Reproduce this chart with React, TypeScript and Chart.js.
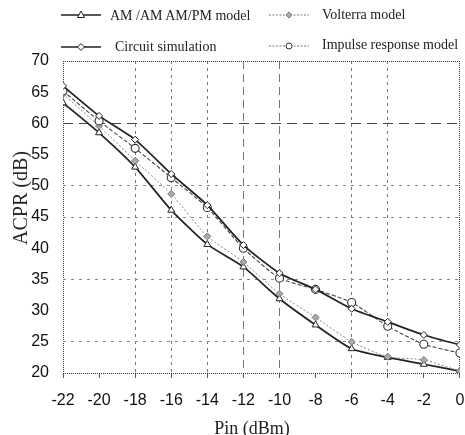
import React, { useEffect, useRef } from "react";
import { Chart, registerables } from "chart.js";

Chart.register(...registerables);

// ---- data ----
const pinValues = [-22, -20, -18, -16, -14, -12, -10, -8, -6, -4, -2, 0];
const amamValues = [63.3, 58.5, 53.0, 46.1, 40.6, 37.0, 31.9, 27.7, 23.9, 22.5, 21.4, 20.3];
const volterraValues = [64.7, 59.6, 54.0, 48.7, 41.9, 37.8, 32.7, 28.9, 25.0, 22.6, 22.1, 20.3];
const circuitValues = [66.0, 61.2, 57.4, 51.9, 46.9, 40.5, 36.0, 33.4, 30.3, 28.2, 26.1, 24.5];
const impulseValues = [65.2, 60.4, 56.0, 51.3, 46.5, 40.0, 35.2, 33.4, 31.3, 27.5, 24.6, 23.2];

const seriesNames = [
  "AM /AM AM/PM model",
  "Volterra model",
  "Circuit simulation",
  "Impulse response model",
];
const xAxisTitle = "Pin (dBm)";
const yAxisTitle = "ACPR (dB)";
const xGridValues = [-18, -16, -14, -12, -10, -6, -4];
const yGridValues = [25, 35, 45, 50, 60];

const toPoints = (ys: number[]) => pinValues.map((x, i) => ({ x, y: ys[i] }));

function LegendSample({ kind }: { kind: string }) {
  const w = 40;
  const h = 12;
  const cx = w / 2;
  const cy = h / 2;
  let line: React.ReactNode;
  let marker: React.ReactNode;
  if (kind === "amam" || kind === "circuit") {
    line = <line x1={0} y1={cy} x2={w} y2={cy} stroke="#222" strokeWidth={1.4} />;
  } else {
    line = (
      <line x1={0} y1={cy} x2={w} y2={cy} stroke="#777" strokeWidth={1} strokeDasharray="2,1.5" />
    );
  }
  if (kind === "amam") {
    marker = <polygon points={`${cx},${cy - 4} ${cx - 3.5},${cy + 2.5} ${cx + 3.5},${cy + 2.5}`} fill="#fff" stroke="#222" strokeWidth={1} />;
  } else if (kind === "circuit") {
    marker = <polygon points={`${cx},${cy - 3.5} ${cx + 3.5},${cy} ${cx},${cy + 3.5} ${cx - 3.5},${cy}`} fill="#fff" stroke="#222" strokeWidth={1} />;
  } else if (kind === "volterra") {
    marker = <polygon points={`${cx},${cy - 3} ${cx + 3},${cy} ${cx},${cy + 3} ${cx - 3},${cy}`} fill="#aaa" stroke="#777" strokeWidth={1} />;
  } else {
    marker = <circle cx={cx} cy={cy} r={3} fill="#fff" stroke="#333" strokeWidth={1} />;
  }
  return (
    <svg width={w} height={h} style={{ position: "absolute", left: 0, top: -6 }}>
      {line}
      {marker}
    </svg>
  );
}

export default function App() {
  const canvasRef = useRef<HTMLCanvasElement | null>(null);

  useEffect(() => {
    const canvas = canvasRef.current;
    if (!canvas) return;

    const xDash = (ctx: any) => {
      const v = ctx.tick ? ctx.tick.value : null;
      if (v === -22 || v === 0) return [1, 1];
      if (v === -12 || v === -10) return [8, 5];
      return [3, 4];
    };
    const xColor = (ctx: any) => {
      const v = ctx.tick ? ctx.tick.value : null;
      if (v === -22 || v === 0) return "#333";
      if (xGridValues.includes(v)) return "#777";
      return "rgba(0,0,0,0)";
    };
    const yDash = (ctx: any) => {
      const v = ctx.tick ? ctx.tick.value : null;
      if (v === 20 || v === 70) return [1, 1];
      if (v === 60) return [10, 6];
      return [3, 5];
    };
    const yColor = (ctx: any) => {
      const v = ctx.tick ? ctx.tick.value : null;
      if (v === 20 || v === 70) return "#333";
      if (v === 60) return "#444";
      if (yGridValues.includes(v)) return "#888";
      return "rgba(0,0,0,0)";
    };

    const tickFont = { family: "'Liberation Sans', Arial, sans-serif", size: 16 };

    const chart = new Chart(canvas, {
      type: "line",
      data: {
        datasets: [
          {
            label: seriesNames[2],
            data: toPoints(circuitValues),
            borderColor: "#222",
            borderWidth: 1.7,
            pointStyle: "rectRot",
            pointRadius: 3.5,
            pointBackgroundColor: "#fff",
            pointBorderColor: "#222",
            pointBorderWidth: 1,
            tension: 0.2,
          },
          {
            label: seriesNames[3],
            data: toPoints(impulseValues),
            borderColor: "#444",
            borderWidth: 1.1,
            borderDash: [4, 2],
            pointStyle: "circle",
            pointRadius: 4,
            pointBackgroundColor: "#fff",
            pointBorderColor: "#333",
            pointBorderWidth: 1.1,
            tension: 0.2,
          },
          {
            label: seriesNames[1],
            data: toPoints(volterraValues),
            borderColor: "#888",
            borderWidth: 1,
            borderDash: [2, 2],
            pointStyle: "rectRot",
            pointRadius: 3.5,
            pointBackgroundColor: "#aaa",
            pointBorderColor: "#777",
            pointBorderWidth: 1,
            tension: 0.2,
          },
          {
            label: seriesNames[0],
            data: toPoints(amamValues),
            borderColor: "#222",
            borderWidth: 1.7,
            pointStyle: "triangle",
            pointRadius: 4,
            pointBackgroundColor: "#fff",
            pointBorderColor: "#222",
            pointBorderWidth: 1,
            tension: 0.2,
          },
        ],
      },
      options: {
        animation: false,
        responsive: false,
        devicePixelRatio: 1,
        layout: { padding: { top: 61, left: 0, right: 5, bottom: 0 } },
        plugins: {
          legend: { display: false },
          tooltip: { enabled: false },
        },
        scales: {
          x: {
            type: "linear",
            min: -22,
            max: 0,
            ticks: {
              stepSize: 2,
              padding: 13,
              color: "#111",
              font: tickFont,
            },
            grid: {
              color: xColor,
              lineWidth: 1,
              drawTicks: true,
              tickLength: 5,
              tickColor: "#555",
              tickBorderDash: [],
            },
            border: { display: false, dash: xDash },
            afterFit: (scale: any) => {
              scale.height = 62;
              scale.paddingLeft = 0;
              scale.paddingRight = 0;
            },
          },
          y: {
            type: "linear",
            min: 20,
            max: 70,
            ticks: {
              stepSize: 5,
              padding: 14,
              color: "#111",
              font: tickFont,
            },
            grid: {
              color: yColor,
              lineWidth: 1,
              drawTicks: false,
            },
            border: { display: false, dash: yDash },
            afterFit: (scale: any) => {
              scale.width = 63;
              scale.paddingTop = 0;
              scale.paddingBottom = 0;
            },
          },
        },
      },
    } as any);

    return () => {
      chart.destroy();
    };
  }, []);

  const serif = "'Liberation Serif', 'Times New Roman', serif";
  const legendText: React.CSSProperties = {
    position: "absolute",
    fontFamily: serif,
    fontSize: 14,
    color: "#222",
    whiteSpace: "nowrap",
    lineHeight: "16px",
    transform: "translateY(-50%)",
  };

  return (
    <div
      style={{
        position: "fixed",
        left: 0,
        top: 0,
        width: 465,
        height: 435,
        background: "#fff",
        overflow: "hidden",
      }}
    >
      <canvas ref={canvasRef} width={465} height={435} style={{ position: "absolute", left: 0, top: 0 }} />
      {/* legend */}
      <div style={{ position: "absolute", left: 61, top: 15 }}>
        <LegendSample kind="amam" />
      </div>
      <div style={{ ...legendText, left: 110, top: 16 }}>{seriesNames[0]}</div>
      <div style={{ position: "absolute", left: 269, top: 15 }}>
        <LegendSample kind="volterra" />
      </div>
      <div style={{ ...legendText, left: 322, top: 15 }}>{seriesNames[1]}</div>
      <div style={{ position: "absolute", left: 61, top: 47 }}>
        <LegendSample kind="circuit" />
      </div>
      <div style={{ ...legendText, left: 115, top: 47 }}>{seriesNames[2]}</div>
      <div style={{ position: "absolute", left: 269, top: 46 }}>
        <LegendSample kind="impulse" />
      </div>
      <div style={{ ...legendText, left: 322, top: 45 }}>{seriesNames[3]}</div>
      {/* axis titles */}
      <div
        style={{
          position: "absolute",
          left: 20,
          top: 198,
          fontFamily: serif,
          fontSize: 20,
          color: "#222",
          whiteSpace: "nowrap",
          lineHeight: "20px",
          transform: "translate(-50%, -50%) rotate(-90deg)",
        }}
      >
        {yAxisTitle}
      </div>
      <div
        style={{
          position: "absolute",
          left: 252,
          top: 419,
          fontFamily: serif,
          fontSize: 18,
          color: "#222",
          whiteSpace: "nowrap",
          lineHeight: "18px",
          transform: "translateX(-50%)",
        }}
      >
        {xAxisTitle}
      </div>
    </div>
  );
}
